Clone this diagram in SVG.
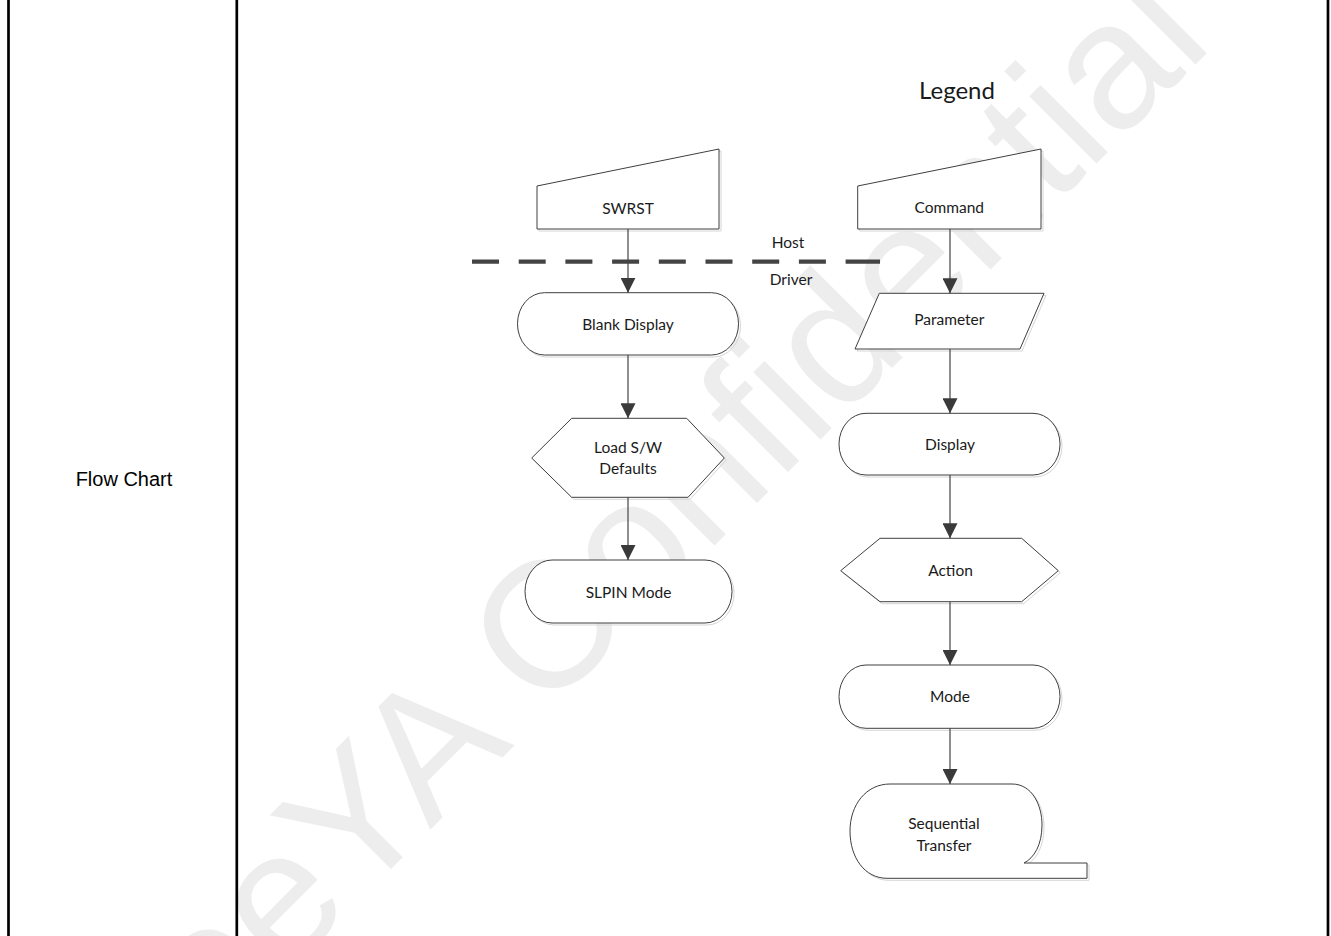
<svg xmlns="http://www.w3.org/2000/svg" width="1331" height="936" viewBox="0 0 1331 936">
  <style>
    .cell { stroke: #000; stroke-width: 2.7; fill: none; }
    .shape { fill: #fff; stroke: #3f3f3f; stroke-width: 1; }
    .shadow { fill: none; stroke: #d6d6d6; stroke-width: 1; }
    .lbl { font-family: Lato, "Open Sans", sans-serif; font-size: 15.5px; fill: #1a1a1a; text-anchor: middle; }
    .link { stroke: #444; stroke-width: 1.2; fill: none; marker-end: url(#arrow); }
    .wm { font-family: "Liberation Sans", Arial, sans-serif; font-size: 180px; fill: #ededed; }
  </style>
  <defs>
    <marker id="arrow" markerUnits="userSpaceOnUse" markerWidth="15" markerHeight="15" refX="15" refY="7.5" orient="auto">
      <path d="M0,0 L15,7.5 L0,15 Z" fill="#3a3a3a"/>
    </marker>
  </defs>

  <rect width="1331" height="936" fill="#fff"/>

  <!-- background watermark -->
  <text class="wm" x="0" y="0" transform="translate(128,1132) rotate(-45)">SeeYA Confidential</text>

  <!-- table cell borders -->
  <g id="table">
    <line class="cell" x1="8.5" y1="0" x2="8.5" y2="936"/>
    <line class="cell" x1="236.8" y1="0" x2="236.8" y2="936"/>
    <line class="cell" x1="1328" y1="0" x2="1328" y2="936"/>
    <text x="124" y="486" font-family="'Liberation Sans', Arial, sans-serif" font-size="20" text-anchor="middle" fill="#000">Flow Chart</text>
  </g>

  <text id="legend-title" x="957" y="99" font-family="Lato, 'Open Sans', sans-serif" font-size="24" text-anchor="middle" fill="#1a1a1a">Legend</text>

  <!-- host / driver boundary -->
  <g id="boundary">
    <line x1="472" y1="261.7" x2="880" y2="261.7" stroke="#444" stroke-width="4.2"
          stroke-dasharray="27 19.7 27 19.7 27 19.7 27 19.7 27 19.7 27 19.7 27 19.7 27 19.7 35 20"/>
    <text class="lbl" x="788" y="248">Host</text>
    <text class="lbl" x="791" y="285">Driver</text>
  </g>

  <!-- left column -->
  <g id="swrst">
    <polygon class="shadow" points="539,188 721,151 721,231 539,231"/>
    <polygon class="shape" points="537,186 719,149 719,229 537,229"/>
    <text class="lbl" x="628" y="214">SWRST</text>
  </g>
  <g id="blank-display">
    <rect class="shadow" x="519.5" y="294.7" width="221" height="62.3" rx="27" ry="31"/>
    <rect class="shape" x="517.5" y="292.7" width="221" height="62.3" rx="27" ry="31"/>
    <text class="lbl" x="628" y="330">Blank Display</text>
  </g>
  <g id="load-defaults">
    <polygon class="shadow" points="573.7,420.3 688.7,420.3 726.3,460 690,499.3 573.7,499.3 533.7,460"/>
    <polygon class="shape" points="571.7,418.3 686.7,418.3 724.3,458 688,497.3 571.7,497.3 531.7,458"/>
    <text class="lbl" x="628" y="453.3">Load S/W</text>
    <text class="lbl" x="628" y="473.5">Defaults</text>
  </g>
  <g id="slpin-mode">
    <rect class="shadow" x="527" y="562" width="207" height="63" rx="27" ry="31.5"/>
    <rect class="shape" x="525" y="560" width="207" height="63" rx="27" ry="31.5"/>
    <text class="lbl" x="628.5" y="598">SLPIN Mode</text>
  </g>

  <!-- right column (legend symbols) -->
  <g id="command">
    <polygon class="shadow" points="859.7,188 1043,151 1043,231 859.7,231"/>
    <polygon class="shape" points="857.7,186 1041,149 1041,229 857.7,229"/>
    <text class="lbl" x="949.3" y="213">Command</text>
  </g>
  <g id="parameter">
    <polygon class="shadow" points="881.3,295.3 1046,295.3 1022,351 857,351"/>
    <polygon class="shape" points="879.3,293.3 1044,293.3 1020,349 855,349"/>
    <text class="lbl" x="949.3" y="325">Parameter</text>
  </g>
  <g id="display">
    <rect class="shadow" x="841" y="415.3" width="221" height="61.7" rx="27" ry="30.8"/>
    <rect class="shape" x="839" y="413.3" width="221" height="61.7" rx="27" ry="30.8"/>
    <text class="lbl" x="950" y="449.5">Display</text>
  </g>
  <g id="action">
    <polygon class="shadow" points="882,540.3 1023.7,540.3 1060.3,572.7 1023.7,603.7 882,603.7 842.7,572.7"/>
    <polygon class="shape" points="880,538.3 1021.7,538.3 1058.3,570.7 1021.7,601.7 880,601.7 840.7,570.7"/>
    <text class="lbl" x="950.5" y="575.7">Action</text>
  </g>
  <g id="mode">
    <rect class="shadow" x="841" y="667" width="221" height="63.3" rx="27" ry="31.6"/>
    <rect class="shape" x="839" y="665" width="221" height="63.3" rx="27" ry="31.6"/>
    <text class="lbl" x="950" y="701.7">Mode</text>
  </g>
  <g id="sequential-transfer">
    <path class="shadow" transform="translate(2,2)" d="M890,784 L1012,784 C1032,784 1042,805 1042,825 C1042,845 1034,858 1024,863 L1087,863 L1087,878.3 L887,878.3 C865,878.3 850,858 850,831 C850,805 866,784 890,784 Z"/>
    <path class="shape" d="M890,784 L1012,784 C1032,784 1042,805 1042,825 C1042,845 1034,858 1024,863 L1087,863 L1087,878.3 L887,878.3 C865,878.3 850,858 850,831 C850,805 866,784 890,784 Z"/>
    <text class="lbl" x="944" y="828.5">Sequential</text>
    <text class="lbl" x="944" y="850.7">Transfer</text>
  </g>

  <!-- connectors -->
  <g id="connectors">
    <line class="link" x1="628" y1="229" x2="628" y2="292.7"/>
    <line class="link" x1="628" y1="355" x2="628" y2="418.3"/>
    <line class="link" x1="628" y1="497.3" x2="628" y2="560"/>
    <line class="link" x1="950" y1="229" x2="950" y2="293.3"/>
    <line class="link" x1="950" y1="349" x2="950" y2="413.3"/>
    <line class="link" x1="950" y1="475" x2="950" y2="538.3"/>
    <line class="link" x1="950" y1="601.7" x2="950" y2="665"/>
    <line class="link" x1="950" y1="728.3" x2="950" y2="784"/>
  </g>
</svg>
